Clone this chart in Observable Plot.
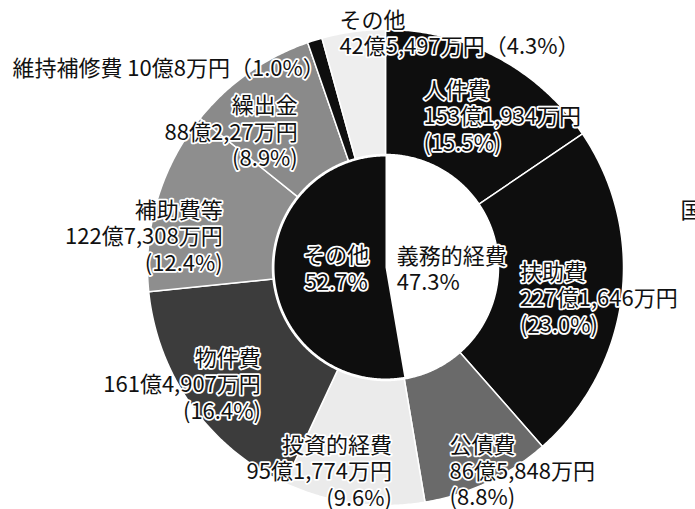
<!DOCTYPE html>
<html>
<head>
<meta charset="utf-8">
<script src="https://cdn.jsdelivr.net/npm/d3@7"></script>
<script src="https://cdn.jsdelivr.net/npm/@observablehq/plot@0.6"></script>
<style>
  body { margin: 0; background: #fff; }
  #chart svg { display: block; background: #fff; }
</style>
</head>
<body>
<div id="chart"></div>
<script>
// ---- data ----
const categories = ["人件費", "扶助費", "公債費", "投資的経費", "物件費", "補助費等", "繰出金", "維持補修費", "その他"];
const amounts = ["153億1,934万円", "227億1,646万円", "86億5,848万円", "95億1,774万円", "161億4,907万円", "122億7,308万円", "88億2,27万円", "10億8万円", "42億5,497万円"];
const shares = [15.5, 23.0, 8.8, 9.6, 16.4, 12.4, 8.9, 1.0, 4.3];
const groups = ["義務的経費", "その他"];
const groupShares = [47.3, 52.7];

// ---- styles / layout ----
const ringFills = ["#0e0e0e", "#0e0e0e", "#6a6a6a", "#ebebeb", "#3c3c3c", "#8e8e8e", "#8a8a8a", "#0e0e0e", "#eeeeee"];
const groupFills = ["#ffffff", "#0e0e0e"];
// label nudges relative to each slice's centroid (pixels), and text anchor
const ringLabelLayout = [
  {anchor: "start", dx: -44, dy: 3},
  {anchor: "start", dx: -39, dy: 8},
  {anchor: "start", dx: -11, dy: 45},
  {anchor: "end", dx: 30, dy: 30},
  {anchor: "end", dx: 18, dy: 15},
  {anchor: "end", dx: 5, dy: 18},
  {anchor: "end", dx: 13, dy: 7},
  {anchor: "end", dx: 10, dy: 27, outer: true, oneLine: true},
  {anchor: "start", dx: -14, dy: 1, outer: true, twoLine: true}
];
const groupLabelLayout = [
  {anchor: "start", dx: -44, dy: 6},
  {anchor: "middle", dx: 6, dy: -4}
];

const W = 695, H = 509;
const cx = 385, cy = 267, rOuter = 238, rInner = 113, rPie = 111, rMid = 175;

const toXY = (f, r) => {
  const a = f * 2 * Math.PI;
  return [cx + r * Math.sin(a), cy - r * Math.cos(a)];
};
function slicePoly(f0, f1, r0, r1) {
  const n = Math.max(3, Math.ceil((f1 - f0) * 720));
  const outer = d3.range(n + 1).map(i => toXY(f0 + (f1 - f0) * i / n, r1));
  const inner = r0 > 0 ? d3.range(n + 1).map(i => toXY(f1 - (f1 - f0) * i / n, r0)) : [[cx, cy]];
  return [...outer, ...inner, outer[0]];
}

const ringTotal = d3.sum(shares);
const ringCum = d3.cumsum(shares).map(v => v / ringTotal);
const ringSlices = shares.map((s, i) => {
  const f0 = i === 0 ? 0 : ringCum[i - 1], f1 = ringCum[i];
  return {type: "Feature", properties: {fill: ringFills[i], f0, f1, i},
          geometry: {type: "Polygon", coordinates: [slicePoly(f0, f1, rInner, rOuter)]}};
});
const groupTotal = d3.sum(groupShares);
const groupCum = d3.cumsum(groupShares).map(v => v / groupTotal);
const groupSlices = groupShares.map((s, i) => {
  const f0 = i === 0 ? 0 : groupCum[i - 1], f1 = groupCum[i];
  return {type: "Feature", properties: {fill: groupFills[i], f0, f1, i},
          geometry: {type: "Polygon", coordinates: [slicePoly(f0, f1, 0, rPie)]}};
});

const ringLabels = ringSlices.map(({properties: {f0, f1, i}}) => {
  const L = ringLabelLayout[i];
  const [x, y] = toXY((f0 + f1) / 2, L.outer ? rOuter : rMid);
  let text;
  if (L.oneLine) text = `${categories[i]} ${amounts[i]}（${shares[i].toFixed(1)}%）`;
  else if (L.twoLine) text = `${categories[i]}\n${amounts[i]}（${shares[i].toFixed(1)}%）`;
  else text = `${categories[i]}\n${amounts[i]}\n(${shares[i].toFixed(1)}%)`;
  return {x: x + L.dx, y: y + L.dy, text, anchor: L.anchor};
});
const groupLabels = groupSlices.map(({properties: {f0, f1, i}}) => {
  const L = groupLabelLayout[i];
  const [x, y] = toXY((f0 + f1) / 2, rPie / 2);
  return {x: x + L.dx, y: y + L.dy, text: `${groups[i]}\n${groupShares[i].toFixed(1)}%`, anchor: L.anchor};
});
const allLabels = [...ringLabels, ...groupLabels];

const textCommon = {
  x: "x", y: "y", text: "text",
  fontFamily: "'Noto Sans CJK JP', 'Noto Sans', sans-serif",
  fontSize: 22, lineHeight: 1.2,
  fill: "#111", stroke: "white", paintOrder: "stroke", strokeLinejoin: "round", strokeWidth: 3.5
};
const textMarks = ["start", "middle", "end"].map(anchor =>
  Plot.text(allLabels.filter(d => d.anchor === anchor), {...textCommon, textAnchor: anchor})
);

const chart = Plot.plot({
  width: W, height: H, margin: 0,
  projection: {type: "identity"},
  color: {type: "identity"},
  marks: [
    Plot.geo(ringSlices, {fill: d => d.properties.fill, stroke: "white", strokeWidth: 1.5, clip: false}),
    Plot.geo(groupSlices, {fill: d => d.properties.fill, clip: false}),
    ...textMarks,
    Plot.text(["国"], {x: () => 680, y: () => 210, text: d => d, textAnchor: "start",
      fontFamily: "'Noto Sans CJK JP', sans-serif", fontSize: 22, fill: "#111"})
  ]
});
document.getElementById("chart").append(chart);
</script>
</body>
</html>
